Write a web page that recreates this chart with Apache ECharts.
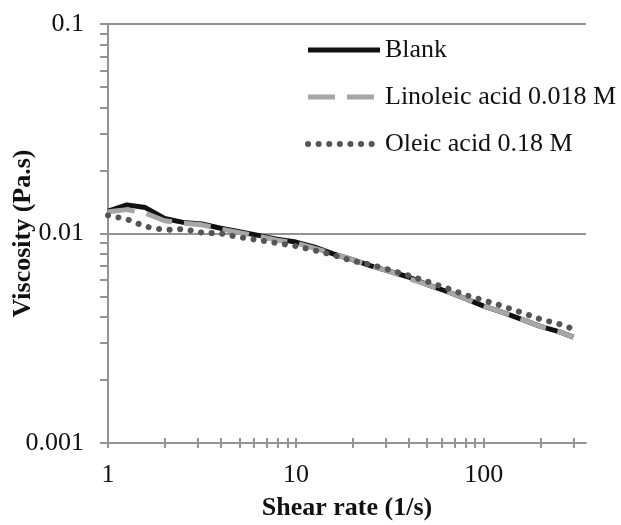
<!DOCTYPE html>
<html>
<head>
<meta charset="utf-8">
<script src="https://cdn.jsdelivr.net/npm/echarts@6/dist/echarts.min.js"></script>
<style>
  html, body { margin: 0; padding: 0; background: #fff; }
  #chart { width: 621px; height: 525px; }
</style>
</head>
<body>
<div id="chart"></div>
<script>
// shear rate (1/s)
const shearRate = [1, 1.26, 1.58, 2, 2.51, 3.16, 3.98, 5.01, 6.31, 7.94, 10, 12.6, 15.8, 20, 25.1, 31.6, 39.8, 50.1, 63.1, 79.4, 100, 126, 158, 200, 251, 300];
// viscosity (Pa.s)
const blank =    [0.0128, 0.0137, 0.0133, 0.0118, 0.0113, 0.0111, 0.0106, 0.0102, 0.0098, 0.0094, 0.0091, 0.0086, 0.0080, 0.0075, 0.0070, 0.0066, 0.0062, 0.0057, 0.0053, 0.0049, 0.0045, 0.0042, 0.0039, 0.0036, 0.0034, 0.0032];
const linoleic = [0.0127, 0.0130, 0.0125, 0.0115, 0.0112, 0.0110, 0.0105, 0.0101, 0.0097, 0.0093, 0.0090, 0.0085, 0.0080, 0.0075, 0.0070, 0.0066, 0.0061, 0.0057, 0.0053, 0.0049, 0.0045, 0.0042, 0.0039, 0.0036, 0.0034, 0.0032];
const oleic =    [0.0122, 0.0117, 0.0108, 0.0104, 0.0105, 0.0101, 0.0100, 0.0096, 0.0093, 0.0090, 0.0087, 0.0083, 0.0079, 0.0074, 0.0071, 0.0067, 0.0063, 0.0059, 0.0055, 0.0051, 0.0048, 0.0045, 0.0042, 0.0039, 0.0037, 0.0035];

const xLabels = [1, 10, 100];
const xTicks = [1, 2, 3, 4, 5, 6, 7, 8, 9, 10, 20, 30, 40, 50, 60, 70, 80, 90, 100, 200, 300];
const yTicks = [0.001, 0.002, 0.003, 0.004, 0.005, 0.006, 0.007, 0.008, 0.009,
                0.01, 0.02, 0.03, 0.04, 0.05, 0.06, 0.07, 0.08, 0.09, 0.1];

const pairs = (ys) => shearRate.map((x, i) => [x, ys[i]]);

const axisGray = '#949494';
const font = 'Liberation Serif';

const blankLine = { color: '#111', width: 5 };
const linoleicLine = { color: '#a6a6a6', width: 5, type: [27, 12] };
const oleicLine = { color: '#555', width: 6, type: [0.1, 10.5], cap: 'round' };

const chart = echarts.init(document.getElementById('chart'));
const option = {
  animation: false,
  grid: { left: 108, right: 35, top: 24, bottom: 82, outerBoundsMode: 'none', containLabel: false },
  legend: {
    orient: 'vertical',
    left: 305,
    top: 37,
    padding: 0,
    itemWidth: 72,
    itemHeight: 26,
    itemGap: 21,
    itemStyle: { opacity: 0 },
    textStyle: { fontFamily: font, fontSize: 26, color: '#111' },
    data: [
      { name: 'Blank', lineStyle: blankLine },
      { name: 'Linoleic acid 0.018 M', lineStyle: linoleicLine },
      { name: 'Oleic acid 0.18 M', lineStyle: oleicLine }
    ]
  },
  xAxis: [
    {
      type: 'log', logBase: 10, min: 1, max: 350,
      name: 'Shear rate (1/s)', nameLocation: 'middle', nameGap: 52, nameMoveOverlap: false,
      nameTextStyle: { fontFamily: font, fontSize: 26, fontWeight: 'bold', color: '#111' },
      axisLine: { lineStyle: { color: axisGray, width: 2 } },
      axisTick: { show: true, length: 5, customValues: xTicks, lineStyle: { color: axisGray, width: 2 } },
      axisLabel: { customValues: xLabels, margin: 19, fontFamily: font, fontSize: 26, color: '#111' },
      splitLine: { show: false }
    },
    {
      type: 'log', logBase: 10, min: 1, max: 350, position: 'bottom',
      axisLine: { show: false },
      axisTick: { show: true, inside: true, length: 5, customValues: xTicks, lineStyle: { color: axisGray, width: 2 } },
      axisLabel: { show: false },
      splitLine: { show: false }
    }
  ],
  yAxis: [
    {
      type: 'log', logBase: 10, min: 0.001, max: 0.1,
      name: 'Viscosity (Pa.s)', nameLocation: 'middle', nameGap: 72, nameMoveOverlap: false,
      nameTextStyle: { fontFamily: font, fontSize: 26, fontWeight: 'bold', color: '#111' },
      axisLine: { show: true, lineStyle: { color: axisGray, width: 2 } },
      axisTick: { show: false },
      axisLabel: { margin: 24, fontFamily: font, fontSize: 26, color: '#111' },
      splitLine: { show: true, lineStyle: { color: axisGray, width: 2 } }
    },
    {
      type: 'log', logBase: 10, min: 0.001, max: 0.1, position: 'left',
      axisLine: { show: false },
      axisTick: { show: true, length: 8, customValues: yTicks, lineStyle: { color: axisGray, width: 2 } },
      axisLabel: { show: false },
      splitLine: { show: false }
    }
  ],
  series: [
    {
      name: 'Blank', type: 'line', showSymbol: false, symbol: 'none',
      data: pairs(blank),
      lineStyle: blankLine,
      itemStyle: { color: '#111' }
    },
    {
      name: 'Linoleic acid 0.018 M', type: 'line', showSymbol: false, symbol: 'none',
      data: pairs(linoleic),
      lineStyle: linoleicLine,
      itemStyle: { color: '#a6a6a6' }
    },
    {
      name: 'Oleic acid 0.18 M', type: 'line', showSymbol: false, symbol: 'none',
      data: pairs(oleic),
      lineStyle: oleicLine,
      itemStyle: { color: '#555' }
    }
  ]
};
chart.setOption(option);
</script>
</body>
</html>
